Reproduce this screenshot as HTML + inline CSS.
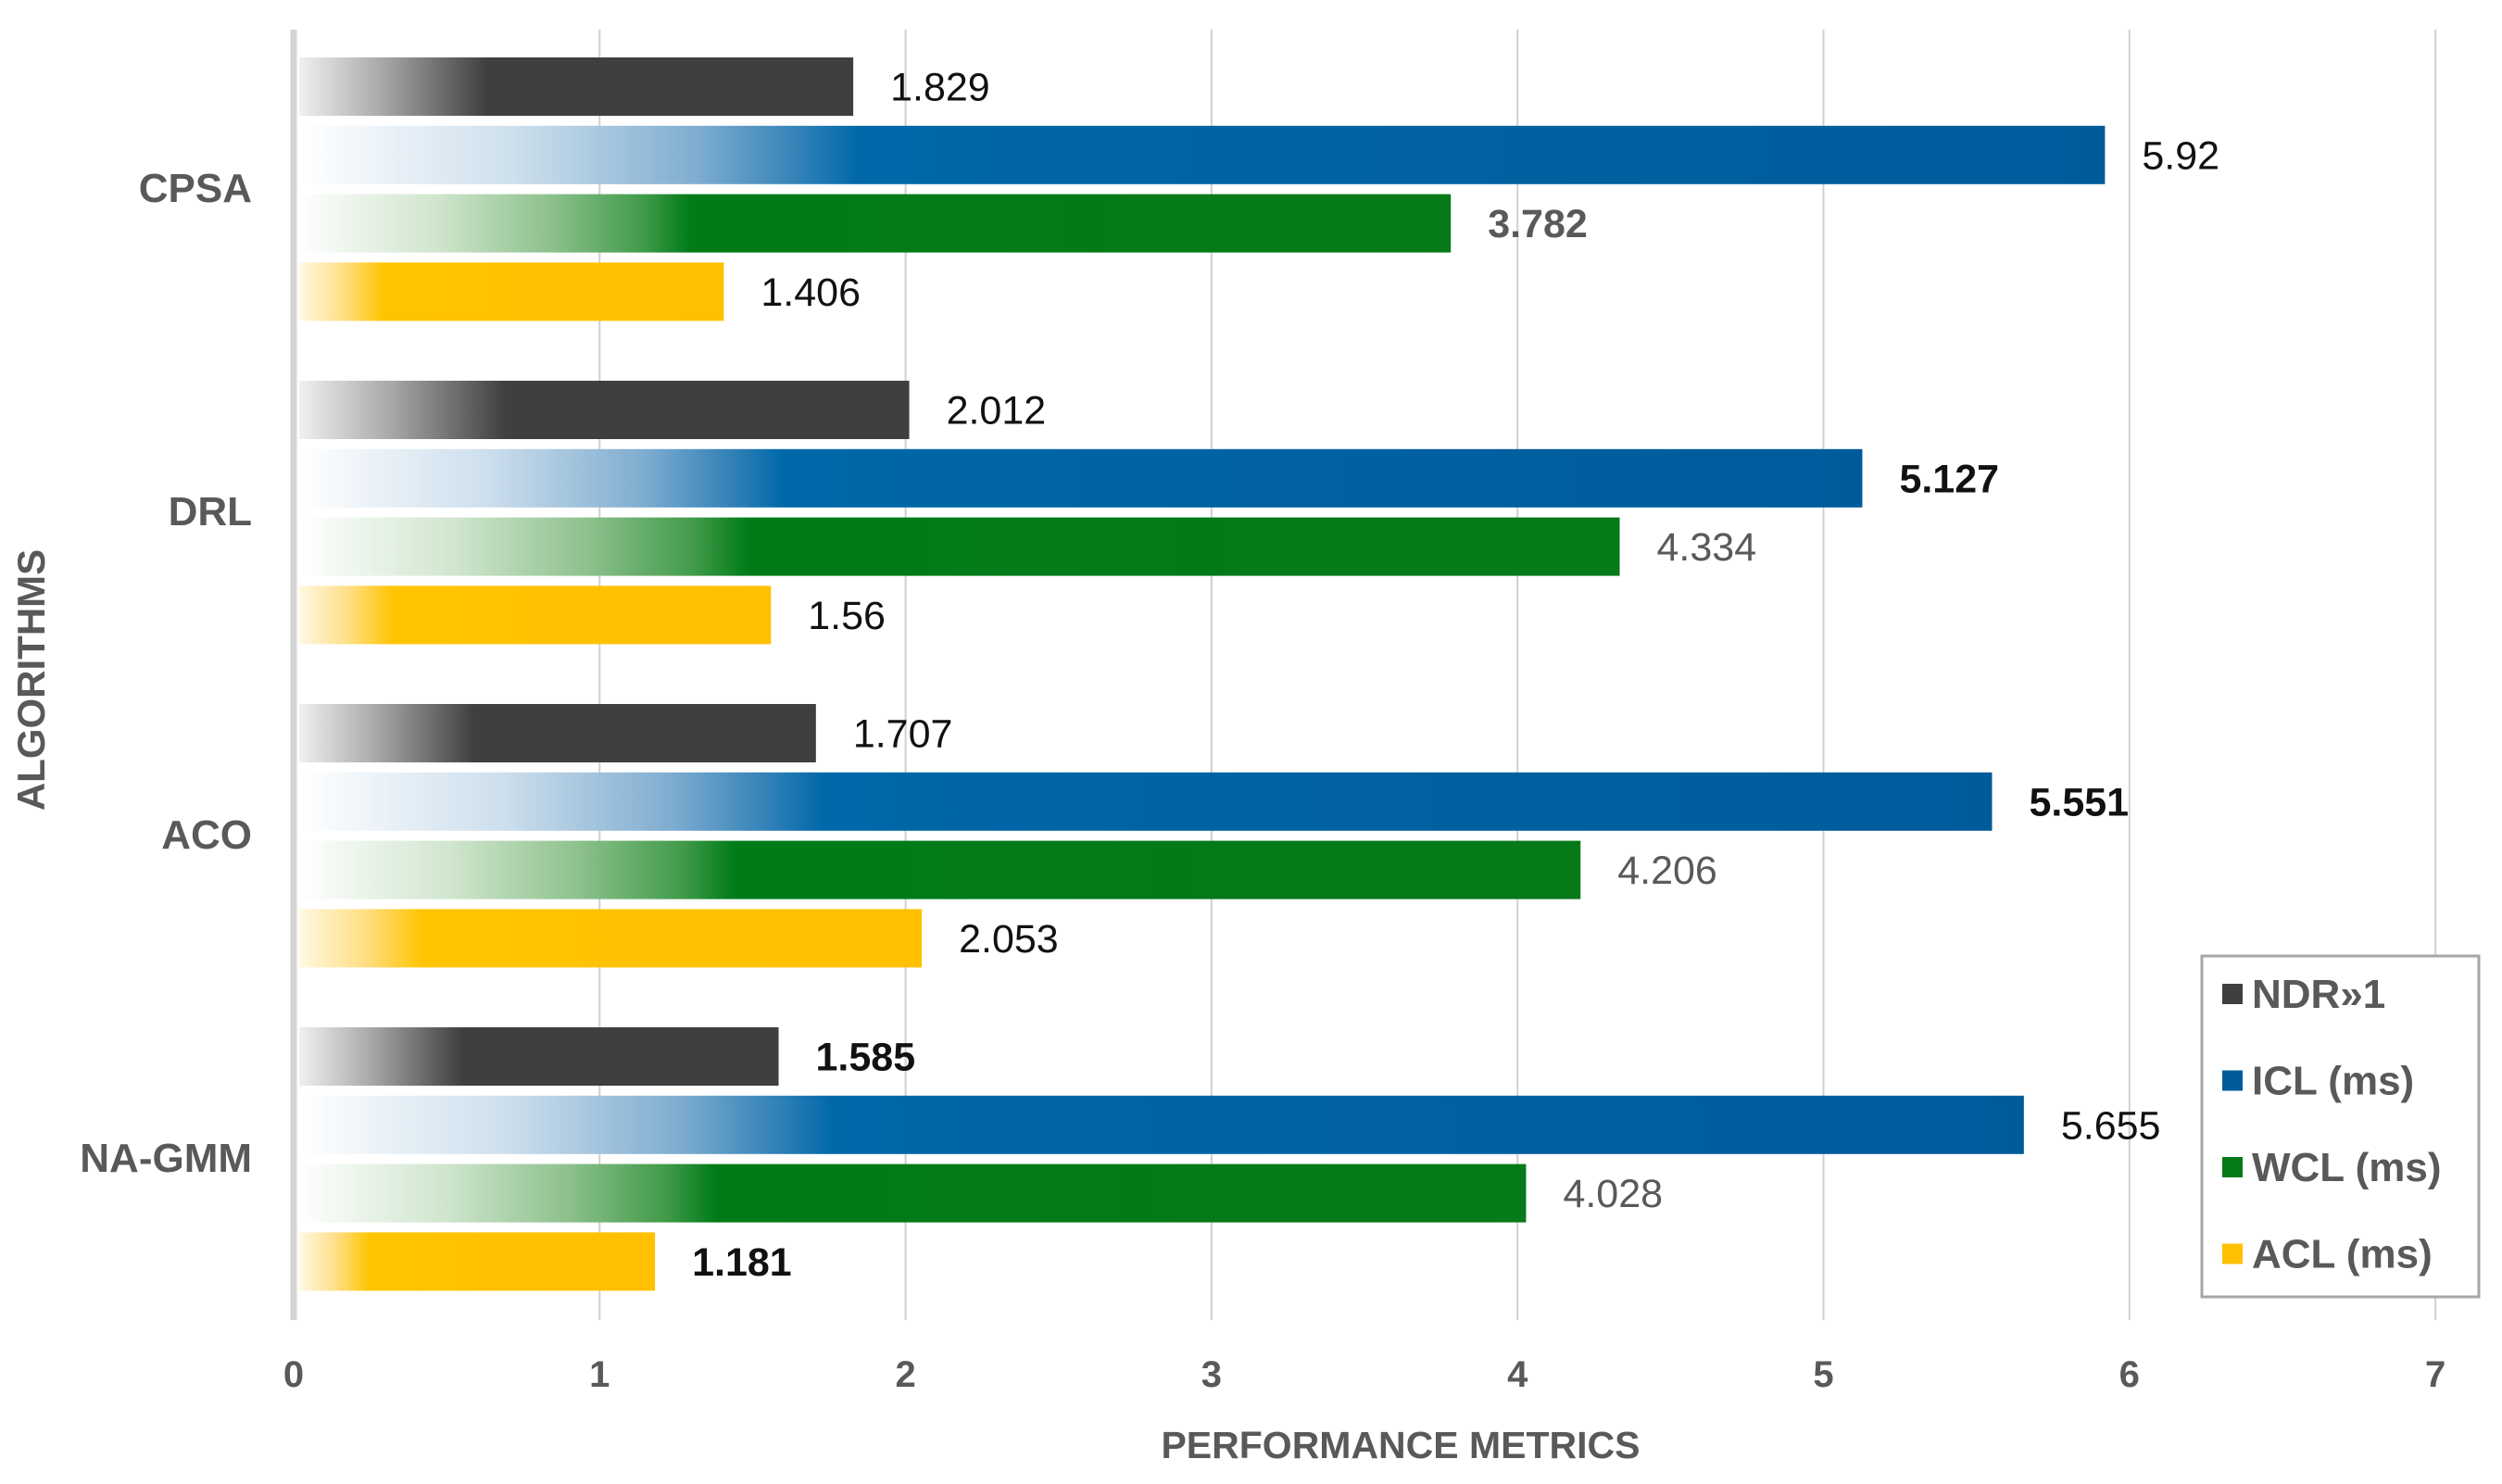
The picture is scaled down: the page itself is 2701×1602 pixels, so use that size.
<!DOCTYPE html>
<html><head><meta charset="utf-8">
<style>
html,body{margin:0;padding:0;background:#fff;}
svg{display:block;font-family:"Liberation Sans",Arial,sans-serif;}
</style></head>
<body>
<svg id="chart" width="2701" height="1602" viewBox="0 0 2701 1602" xmlns="http://www.w3.org/2000/svg">
<defs>
<linearGradient id="g-ndr" x1="0" x2="1" y1="0" y2="0">
<stop offset="0" stop-color="#f0f0f0"/><stop offset="0.15" stop-color="#a8a8a8"/><stop offset="0.3" stop-color="#555"/><stop offset="0.34" stop-color="#3f3f3f"/><stop offset="1" stop-color="#3f3f3f"/>
</linearGradient>
<linearGradient id="g-icl" x1="0" x2="1" y1="0" y2="0">
<stop offset="0" stop-color="#ffffff"/><stop offset="0.12" stop-color="#cddfed"/><stop offset="0.22" stop-color="#7fadd0"/><stop offset="0.28" stop-color="#2d7fb6"/><stop offset="0.31" stop-color="#0068a8"/><stop offset="1" stop-color="#005b9b"/>
</linearGradient>
<linearGradient id="g-wcl" x1="0" x2="1" y1="0" y2="0">
<stop offset="0" stop-color="#ffffff"/><stop offset="0.12" stop-color="#cfe5cd"/><stop offset="0.22" stop-color="#8cc08c"/><stop offset="0.3" stop-color="#3f9a48"/><stop offset="0.34" stop-color="#007b18"/><stop offset="1" stop-color="#067a18"/>
</linearGradient>
<linearGradient id="g-acl" x1="0" x2="1" y1="0" y2="0">
<stop offset="0" stop-color="#fff8e2"/><stop offset="0.1" stop-color="#ffe08a"/><stop offset="0.2" stop-color="#ffc400"/><stop offset="1" stop-color="#ffc000"/>
</linearGradient>
</defs>
<g id="grid"></g>
<g id="bars"></g>
<g id="labels"></g>
<text x="1512" y="1574" text-anchor="middle" font-size="41" font-weight="bold" fill="#595959">PERFORMANCE METRICS</text>
<text transform="translate(48,734) rotate(-90)" text-anchor="middle" font-size="42" font-weight="bold" fill="#595959">ALGORITHMS</text>
<g id="legend">
<rect x="2377" y="1032" width="299" height="368" fill="#fff" stroke="#a6a6a6" stroke-width="3"/>
</g>
</svg>
<script>
const categories = ["CPSA","DRL","ACO","NA-GMM"];
const seriesNames = ["NDR»1","ICL (ms)","WCL (ms)","ACL (ms)"];
const ndr = [1.829, 2.012, 1.707, 1.585];
const icl = [5.92, 5.127, 5.551, 5.655];
const wcl = [3.782, 4.334, 4.206, 4.028];
const acl = [1.406, 1.56, 2.053, 1.181];
const boldLabels = [[false,false,true,false],[false,true,false,false],[false,true,false,false],[true,false,false,true]];
const xTicks = [0,1,2,3,4,5,6,7];

const NS="http://www.w3.org/2000/svg";
const series=[ndr,icl,wcl,acl];
const grads=["url(#g-ndr)","url(#g-icl)","url(#g-wcl)","url(#g-acl)"];
const legendColors=["#3f3f3f","#005b9b","#067a18","#ffc000"];
const labelColors=["#111","#111","#595959","#111"];
const x0=317, unit=330.3, plotTop=32, plotBottom=1425;
function xs(v){return x0+v*unit;}
function yGroup(i){return 62+i*349;}
const barH=63, barPitch=73.8;
function mk(tag,attrs,parent){const e=document.createElementNS(NS,tag);for(const k in attrs)e.setAttribute(k,attrs[k]);parent.appendChild(e);return e;}
const grid=document.getElementById('grid'),bars=document.getElementById('bars'),labels=document.getElementById('labels'),legend=document.getElementById('legend');

xTicks.forEach(t=>{
  const l=mk('line',{x1:xs(t),x2:xs(t),y1:plotTop,y2:plotBottom,stroke:t===0?'#d4d4d4':'#d0d0d0','stroke-width':t===0?7:2},grid);
  
  
  const tx=mk('text',{x:xs(t),y:1497,'text-anchor':'middle','font-size':40,'font-weight':'bold',fill:'#595959'},grid);
  tx.textContent=t;
  
  
});

categories.forEach((c,i)=>{
  const gy=yGroup(i);
  const cl=mk('text',{x:272,y:gy+barPitch*1.5+barH/2+14,'text-anchor':'end','font-size':44,'font-weight':'bold',fill:'#595959'},labels);
  cl.textContent=c;
  
  
  series.forEach((s,j)=>{
    const v=s[i];
    const y=gy+j*barPitch;
    const r=mk('rect',{x:xs(0)+6,y:y,width:xs(v)-xs(0)-6,height:barH,fill:grads[j]},bars);
    
    
    const t=mk('text',{x:xs(v)+40,y:y+barH/2+15,'font-size':43,fill:labelColors[j],'font-weight':boldLabels[i][j]?'bold':'normal'},labels);
    t.textContent=String(v);
    
    
  });
});

seriesNames.forEach((n,j)=>{
  const cy=1073+j*93.5;
  const sq=mk('rect',{x:2399,y:cy-11,width:22,height:22,fill:legendColors[j]},legend);
  
  
  const t=mk('text',{x:2431,y:cy+15,'font-size':44,'font-weight':'bold',fill:'#595959'},legend);
  t.textContent=n;
  
  
});
</script>
</body></html>
